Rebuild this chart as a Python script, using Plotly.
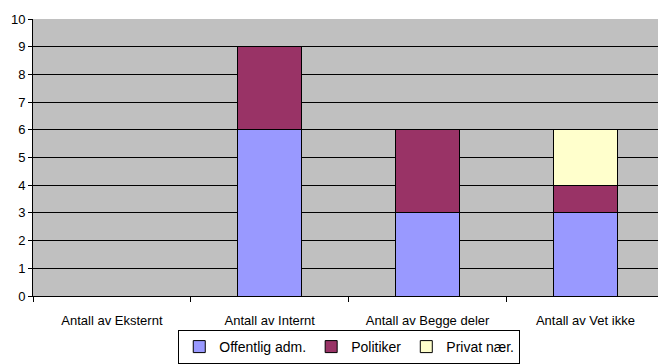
import plotly.graph_objects as go

categories = ["Antall av Eksternt", "Antall av Internt", "Antall av Begge deler", "Antall av Vet ikke"]
offentlig = [0, 6, 3, 3]
politiker = [0, 3, 3, 1]
privat = [0, 0, 0, 2]
series_names = ["Offentlig adm.", "Politiker", "Privat nær."]
colors = ["#9999FF", "#993366", "#FFFFCC"]

xpos = list(range(len(categories)))
fig = go.Figure()
for name, vals, col in zip(series_names, [offentlig, politiker, privat], colors):
    fig.add_trace(go.Bar(x=xpos, y=vals, name=name, marker=dict(color=col, line=dict(color="black", width=1)),
                         width=0.406))

fig.update_layout(
    barmode="stack",
    width=658, height=364,
    margin=dict(l=33, r=0, t=19, b=68, autoexpand=False),
    paper_bgcolor="white",
    plot_bgcolor="#C0C0C0",
    font=dict(family="Liberation Sans, Arial", size=13, color="black"),
    showlegend=True,
    legend=dict(orientation="h", x=0.506, xanchor="center", y=0, yanchor="bottom", yref="container",
                bordercolor="black", borderwidth=1, bgcolor="white",
                font=dict(size=14), itemwidth=30, traceorder="normal",
                tracegroupgap=0),
)
fig.update_xaxes(range=[-0.5, 3.46], tickvals=xpos, ticktext=categories, ticks="",
                 showline=True, linecolor="black", linewidth=1, showgrid=False, zeroline=False,
                 ticklabelstandoff=12,
                 minor=dict(tick0=0.5, dtick=1, ticks="outside", ticklen=5, tickcolor="black", showgrid=False))
fig.update_yaxes(range=[0, 10], dtick=1, ticks="outside", ticklen=4, tickcolor="black",
                 showline=True, linecolor="black", linewidth=1, showgrid=True, gridcolor="black",
                 gridwidth=1, zeroline=False, tickfont=dict(size=13))
fig.write_html("out.html")
